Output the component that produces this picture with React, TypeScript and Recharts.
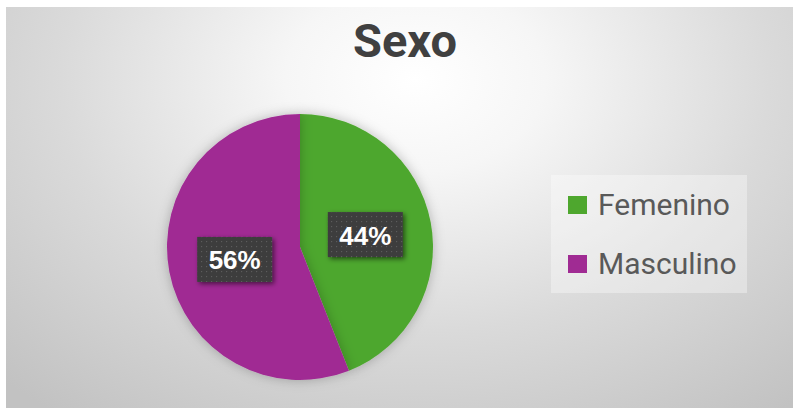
import React from "react";
import { PieChart, Pie, Cell, Legend } from "recharts";

const categories = ["Femenino", "Masculino"];
const values = [44, 56];
const colors = ["#4EA72E", "#A02B93"];
const title = "Sexo";

const data = categories.map((name, i) => ({ name, value: values[i] }));

const W = 793;
const H = 410;
const RAD = Math.PI / 180;

const renderLabel = (props: any) => {
  const { cx, cy, midAngle, outerRadius, percent, index } = props;
  const r = outerRadius * 0.5;
  const x = cx + r * Math.cos(-midAngle * RAD);
  const y = cy + r * Math.sin(-midAngle * RAD);
  const bw = 75;
  const bh = 45;
  return (
    <g key={`lbl-${index}`}>
      {index === 0 && (
        <defs>
          <pattern id="dots" width="5" height="5" patternUnits="userSpaceOnUse">
            <rect width="5" height="5" fill="#3d3d3d" />
            <rect x="1" y="1" width="1.2" height="1.2" fill="#5c5c5c" />
          </pattern>
          <filter id="lblShadow" x="-30%" y="-30%" width="160%" height="160%">
            <feDropShadow dx="2" dy="2" stdDeviation="2.5" floodColor="#000" floodOpacity="0.55" />
          </filter>
        </defs>
      )}
      <rect
        x={x - bw / 2}
        y={y - bh / 2}
        width={bw}
        height={bh}
        fill="url(#dots)"
        filter="url(#lblShadow)"
      />
      <text
        x={x}
        y={y + 1}
        fill="#ffffff"
        textAnchor="middle"
        dominantBaseline="central"
        fontFamily="'Liberation Sans', Arial, sans-serif"
        fontWeight="bold"
        fontSize={26}
      >
        {`${Math.round(percent * 100)}%`}
      </text>
    </g>
  );
};

const renderLegend = (props: any) => {
  const { payload } = props;
  return (
    <div
      style={{
        position: "relative",
        width: 196,
        height: 118,
        background: "rgba(255,255,255,0.35)",
      }}
    >
      {(payload || []).map((entry: any, i: number) => (
        <div
          key={`leg-${i}`}
          style={{
            position: "absolute",
            left: 17,
            top: 30 + i * 59 - 20,
            height: 40,
            display: "flex",
            alignItems: "center",
          }}
        >
          <div style={{ width: 19, height: 18, background: entry.color, marginRight: 11 }} />
          <span
            style={{
              fontFamily: "Roboto, 'Noto Sans', sans-serif",
              fontSize: 30,
              color: "#595959",
              lineHeight: "40px",
            }}
          >
            {entry.value}
          </span>
        </div>
      ))}
    </div>
  );
};

export default function App() {
  return (
    <div style={{ position: "absolute", left: 0, top: 0, width: W, height: H }}>
      <svg width={W} height={H} style={{ position: "absolute", left: 0, top: 0 }}>
        <defs>
          <radialGradient id="bg" cx="0.52" cy="0.18" r="0.75" gradientUnits="objectBoundingBox" gradientTransform="translate(0.52 0.18) scale(1 1.4) translate(-0.52 -0.18)">
            <stop offset="0" stopColor="#ffffff" />
            <stop offset="0.22" stopColor="#f6f6f6" />
            <stop offset="0.6" stopColor="#dadada" />
            <stop offset="1" stopColor="#c2c2c2" />
          </radialGradient>
        </defs>
        <rect x={6} y={7} width={W - 6} height={401} fill="url(#bg)" />
        <text
          x={405}
          y={57}
          textAnchor="middle"
          fontFamily="Roboto, 'Noto Sans', sans-serif"
          fontWeight="bold"
          fontSize={47}
          fill="#404040"
        >
          {title}
        </text>
      </svg>
      <div style={{ position: "absolute", left: 0, top: 0 }}>
        <PieChart width={W} height={H} margin={{ top: 0, right: 0, bottom: 0, left: 0 }}>
          <defs>
            <filter id="pieShadow" x="-20%" y="-20%" width="140%" height="140%">
              <feDropShadow dx="0" dy="0" stdDeviation="6" floodColor="#000" floodOpacity="0.25" />
            </filter>
          </defs>
          <Pie
            data={data}
            dataKey="value"
            nameKey="name"
            cx={300}
            cy={247}
            outerRadius={133}
            startAngle={90}
            endAngle={-270}
            stroke="none"
            labelLine={false}
            label={renderLabel}
            isAnimationActive={false}
            style={{ filter: "url(#pieShadow)" }}
          >
            {data.map((d, i) => (
              <Cell key={d.name} fill={colors[i]} stroke="none" />
            ))}
          </Pie>
          <Legend
            content={renderLegend}
            layout="vertical"
            wrapperStyle={{ position: "absolute", left: 551, top: 175, width: 196, height: 118 }}
          />
        </PieChart>
      </div>
    </div>
  );
}
